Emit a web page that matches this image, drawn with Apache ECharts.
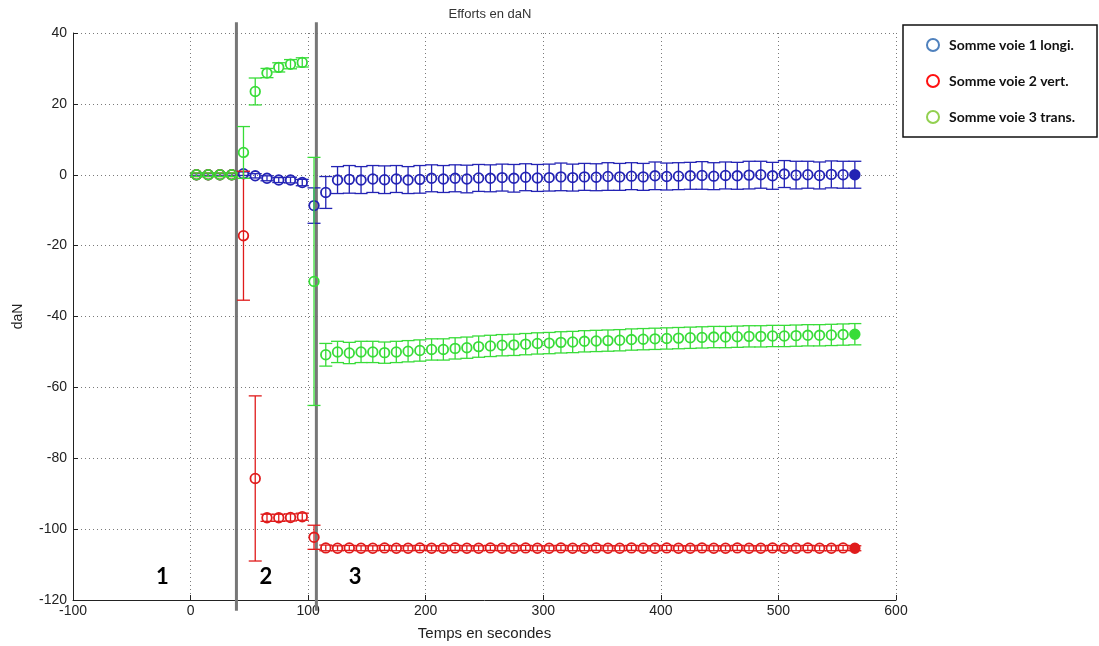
<!DOCTYPE html>
<html>
<head>
<meta charset="utf-8">
<script src="https://cdn.jsdelivr.net/npm/echarts@6/dist/echarts.min.js"></script>
<style>
html,body{margin:0;padding:0;background:#fff;}
#chart{width:1099px;height:646px;}
</style>
</head>
<body>
<div id="chart"></div>
<script>
// ---- data ----
const times = [5, 15, 25, 35, 45, 55, 65, 75, 85, 95, 105, 115, 125, 135, 145, 155, 165, 175, 185, 195,
  205, 215, 225, 235, 245, 255, 265, 275, 285, 295, 305, 315, 325, 335, 345, 355, 365, 375, 385, 395,
  405, 415, 425, 435, 445, 455, 465, 475, 485, 495, 505, 515, 525, 535, 545, 555, 565];

const voie1Values = [0, 0, 0, 0, 0.3, -0.3, -1.0, -1.5, -1.5, -2.2, -8.7, -5.0,
  -1.5, -1.3, -1.5, -1.2, -1.4, -1.2, -1.5, -1.3, -1.0, -1.2, -1.0, -1.2, -0.9, -1.0, -0.8, -1.0,
  -0.7, -0.9, -0.8, -0.6, -0.8, -0.6, -0.7, -0.5, -0.6, -0.4, -0.6, -0.3, -0.5, -0.4, -0.3, -0.2,
  -0.4, -0.2, -0.3, -0.1, 0, -0.3, 0.2, -0.1, 0, -0.2, 0.1, 0, 0];
const voie1Errors = [0.3, 0.3, 0.3, 0.3, 0.5, 0.6, 0.7, 0.7, 0.8, 0.9, 5.0, 4.5,
  3.8, 3.9, 3.8, 3.8, 3.9, 3.8, 3.8, 3.9, 3.8, 3.8, 3.8, 3.9, 3.8, 3.8, 3.8, 3.9,
  3.8, 3.8, 3.8, 3.9, 3.8, 3.8, 3.8, 3.9, 3.8, 3.8, 3.8, 3.9, 3.8, 3.8, 3.8, 3.9,
  3.8, 3.8, 3.8, 3.9, 3.8, 3.8, 3.8, 3.9, 3.8, 3.8, 3.8, 3.8, 3.8];

const voie2Values = [0, 0, 0, 0, -17.2, -85.7, -96.8, -96.8, -96.7, -96.5, -102.3, -105.3,
  -105.4, -105.3, -105.4, -105.4, -105.3, -105.4, -105.4, -105.3, -105.4, -105.4, -105.3, -105.4,
  -105.4, -105.3, -105.4, -105.4, -105.3, -105.4, -105.4, -105.3, -105.4, -105.4, -105.3, -105.4,
  -105.4, -105.3, -105.4, -105.4, -105.3, -105.4, -105.4, -105.3, -105.4, -105.4, -105.3, -105.4,
  -105.4, -105.3, -105.4, -105.4, -105.3, -105.4, -105.4, -105.3, -105.4];
const voie2Errors = [0.5, 0.5, 0.5, 0.5, 18.2, 23.3, 1.0, 1.0, 1.0, 1.0, 3.4, 0.8,
  0.7, 0.7, 0.7, 0.7, 0.7, 0.7, 0.7, 0.7, 0.7, 0.7, 0.7, 0.7, 0.7, 0.7, 0.7, 0.7,
  0.7, 0.7, 0.7, 0.7, 0.7, 0.7, 0.7, 0.7, 0.7, 0.7, 0.7, 0.7, 0.7, 0.7, 0.7, 0.7,
  0.7, 0.7, 0.7, 0.7, 0.7, 0.7, 0.7, 0.7, 0.7, 0.7, 0.7, 0.7, 0.7];

const voie3Values = [0, 0, 0, 0, 6.3, 23.5, 28.7, 30.3, 31.2, 31.7, -30.1, -50.8,
  -50.0, -50.3, -50.0, -50.0, -50.2, -50.0, -49.8, -49.6, -49.3, -49.3, -49.0, -48.8, -48.5,
  -48.3, -48.1, -48.0, -47.8, -47.6, -47.5, -47.3, -47.2, -47.0, -46.9, -46.8, -46.7, -46.5,
  -46.4, -46.3, -46.2, -46.1, -46.0, -45.9, -45.8, -45.8, -45.7, -45.6, -45.6, -45.5, -45.5,
  -45.4, -45.3, -45.3, -45.2, -45.1, -45.0];
const voie3Errors = [0.5, 0.5, 0.5, 0.5, 7.3, 3.8, 1.3, 1.3, 1.3, 1.3, 35.0, 3.2,
  3.0, 3.0, 3.0, 3.0, 3.0, 3.0, 3.0, 3.0, 3.0, 3.0, 3.0, 3.0, 3.0, 3.0, 3.0, 3.0,
  3.0, 3.0, 3.0, 3.0, 3.0, 3.0, 3.0, 3.0, 3.0, 3.0, 3.0, 3.0, 3.0, 3.0, 3.0, 3.0,
  3.0, 3.0, 3.0, 3.0, 3.0, 3.0, 3.0, 3.0, 3.0, 3.0, 3.0, 3.0, 3.0];

const seriesNames = ['Somme voie 1 longi.', 'Somme voie 2 vert.', 'Somme voie 3 trans.'];
const phaseLineTimes = [39, 107];
const phaseLineSpan = [43, -123];
const phaseLabels = ['1', '2', '3'];
const phaseLabelPos = [[-24, -113.5], [64, -113.5], [140, -113.5]];
const xTicks = { min: -100, max: 600, interval: 100 };
const yTicks = { min: -120, max: 40, interval: 20 };

// ---- styles ----
const plotColors = ['#2323b4', '#e01b1b', '#38dc38'];
const legendColors = ['#4f81bd', '#ff1010', '#92d050'];

function rows(vals, errs) {
  return times.map((t, i) => [t, vals[i], errs[i]]);
}

function makeRender(color) {
  return function (params, api) {
    const x = api.value(0), y = api.value(1), e = api.value(2);
    const c = api.coord([x, y]);
    const hi = api.coord([x, y + e]);
    const lo = api.coord([x, y - e]);
    const hw = 6.5;
    const last = params.dataIndex === params.dataInsideLength - 1;
    const ls = { stroke: color, lineWidth: 1.3 };
    return {
      type: 'group',
      children: [
        { type: 'line', shape: { x1: c[0], y1: hi[1], x2: c[0], y2: lo[1] }, style: ls },
        { type: 'line', shape: { x1: c[0] - hw, y1: hi[1], x2: c[0] + hw, y2: hi[1] }, style: ls },
        { type: 'line', shape: { x1: c[0] - hw, y1: lo[1], x2: c[0] + hw, y2: lo[1] }, style: ls },
        { type: 'circle', shape: { cx: c[0], cy: c[1], r: 4.8 },
          style: { fill: last ? color : 'none', stroke: color, lineWidth: 1.8 } }
      ]
    };
  };
}

const allData = [rows(voie1Values, voie1Errors), rows(voie2Values, voie2Errors), rows(voie3Values, voie3Errors)];

const gridLine = { show: true, lineStyle: { color: '#7a7a7a', type: [1, 3], width: 1 } };
const axisFont = { fontFamily: 'Liberation Sans', fontSize: 14, color: '#222' };

const chart = echarts.init(document.getElementById('chart'), null, { renderer: 'canvas' });
const option = {
  animation: false,
  backgroundColor: '#fff',
  title: {
    text: 'Efforts en daN', left: 485, top: 3, textAlign: 'center',
    textStyle: { fontFamily: 'Liberation Sans', fontSize: 13, fontWeight: 'normal', color: '#333' }
  },
  grid: { left: 73, right: 203, top: 33, bottom: 45 },
  legend: {
    orient: 'vertical', left: 903, top: 25, selectedMode: false,
    padding: [13, 22, 13, 23], itemGap: 22, itemWidth: 12, itemHeight: 12,
    borderColor: '#111', borderWidth: 1.5, backgroundColor: '#fff',
    textStyle: { fontFamily: 'Lato', fontWeight: 'bold', fontSize: 14, color: '#111', padding: [0, 0, 0, 5] },
    data: seriesNames.map((n, i) => ({
      name: n, icon: 'circle',
      itemStyle: { color: '#fff', borderColor: legendColors[i], borderWidth: 2 }
    }))
  },
  xAxis: {
    type: 'value', min: xTicks.min, max: xTicks.max, interval: xTicks.interval,
    name: 'Temps en secondes', nameLocation: 'middle', nameGap: 26,
    nameTextStyle: { fontFamily: 'Liberation Sans', fontSize: 15, color: '#222' },
    axisLine: { show: true, onZero: false, lineStyle: { color: '#222', width: 1 } },
    axisTick: { show: true, inside: true, length: 5, lineStyle: { color: '#222' } },
    axisLabel: Object.assign({ margin: 4 }, axisFont),
    splitLine: gridLine
  },
  yAxis: {
    type: 'value', min: yTicks.min, max: yTicks.max, interval: yTicks.interval,
    name: 'daN', nameLocation: 'middle', nameGap: 48,
    nameTextStyle: { fontFamily: 'Liberation Sans', fontSize: 14, color: '#222' },
    axisLine: { show: true, onZero: false, lineStyle: { color: '#222', width: 1 } },
    axisTick: { show: true, inside: true, length: 5, lineStyle: { color: '#222' } },
    axisLabel: Object.assign({ margin: 6 }, axisFont),
    splitLine: gridLine
  },
  series: seriesNames.map((n, i) => ({
    name: n, type: 'custom', renderItem: makeRender(plotColors[i]),
    itemStyle: { color: legendColors[i] },
    encode: { x: 0, y: 1 },
    data: allData[i], z: 3 + i
  }))
};
chart.setOption(option);

// phase separators and labels, positioned through the axes
const graphics = [];
phaseLineTimes.forEach(t => {
  const a = chart.convertToPixel({ xAxisIndex: 0, yAxisIndex: 0 }, [t, phaseLineSpan[0]]);
  const b = chart.convertToPixel({ xAxisIndex: 0, yAxisIndex: 0 }, [t, phaseLineSpan[1]]);
  graphics.push({ type: 'line', z: 2, shape: { x1: a[0], y1: a[1], x2: b[0], y2: b[1] },
    style: { stroke: '#777', lineWidth: 3 } });
});
phaseLabels.forEach((txt, i) => {
  const p = chart.convertToPixel({ xAxisIndex: 0, yAxisIndex: 0 }, phaseLabelPos[i]);
  graphics.push({ type: 'text', z: 10, x: p[0], y: p[1],
    style: { text: txt, fill: '#000', fontFamily: 'Lato', fontWeight: 'bold', fontSize: 22,
      align: 'center', verticalAlign: 'middle', textAlign: 'center', textVerticalAlign: 'middle' } });
});
chart.setOption({ graphic: graphics });
</script>
</body>
</html>
